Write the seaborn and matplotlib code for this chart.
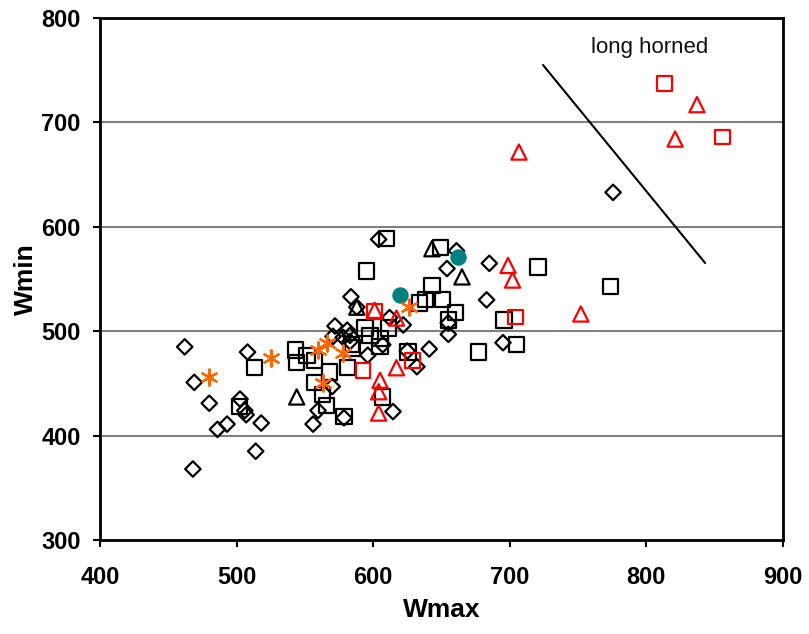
import matplotlib
matplotlib.use("Agg")
import matplotlib.pyplot as plt
import seaborn as sns
import pandas as pd

sns.set_theme(style="white")
plt.rcParams['font.family'] = ['Liberation Sans', 'DejaVu Sans']

# black diamonds
dia_x = [462, 468, 469, 480, 486, 493, 502.5, 506, 507, 508, 514, 518, 556, 559.6, 570, 578.6,
         570.6, 583, 572, 581, 578, 583, 583.7, 588, 596, 604, 612, 622, 632, 641, 614.5, 655,
         655, 654, 661, 683, 685, 695, 775.6, 607, 625]
dia_y = [485, 368, 451, 431, 406, 411, 435, 424, 420, 480, 385, 412, 411, 424, 447, 417,
         495, 496, 505, 501, 494, 490, 533, 523, 477, 588, 513, 506, 466, 483, 423, 497,
         508, 560, 577, 530, 565, 489, 633, 487, 481]
# black squares
sq_x = [513, 502, 543, 544, 551.5, 557, 568, 557, 563, 566, 578.6, 581, 584, 594, 597.7, 605,
        585, 605, 595, 610, 625.5, 607, 611, 634, 638, 643, 649, 651, 660, 655, 677, 695.8,
        705, 720.6, 774]
sq_y = [465, 428, 482, 470, 477, 472, 461, 451, 439, 429, 418, 465, 487, 503, 496, 493,
        484, 485, 557.7, 589, 480, 437, 503, 527, 530, 544, 580, 530, 518, 510.7, 480, 510.7,
        487, 561.5, 543]
# black triangles
tri_x = [544, 643, 665, 588]
tri_y = [437, 579, 552, 523]
# red squares
rsq_x = [592.5, 601, 629, 704, 813, 856]
rsq_y = [462, 519, 472, 513.6, 737, 686]
# red triangles
rtri_x = [601, 605, 604, 604, 617, 617, 698.7, 702, 752, 706.7, 821, 837]
rtri_y = [520, 453, 442, 421.6, 465, 512.6, 563, 549, 516.5, 671.6, 684, 717]
# teal circles
tc_x = [619.6, 662]
tc_y = [534.7, 571]
# orange stars
st_x = [480, 525, 559.6, 566, 578, 563, 626]
st_y = [456, 474, 482, 489, 479, 450, 523]

# separator line
line_x = [724.3, 843]
line_y = [755, 565.3]

fig = plt.figure(figsize=(8.09, 6.34), dpi=100)
ax = fig.add_axes([100/809, 1-540/634, 683/809, 522/634])

for yv in [400, 500, 600, 700]:
    ax.axhline(yv, color='#808080', lw=1.5, zorder=0)

kw = dict(ax=ax, legend=False, zorder=3)
sns.scatterplot(x=dia_x, y=dia_y, marker='D', s=62, facecolor='none', edgecolor='black', linewidth=1.6, **kw)
sns.scatterplot(x=sq_x, y=sq_y, marker='s', s=120, facecolor='none', edgecolor='black', linewidth=1.6, **kw)
sns.scatterplot(x=tri_x, y=tri_y, marker='^', s=120, facecolor='none', edgecolor='black', linewidth=1.6, **kw)
sns.scatterplot(x=rsq_x, y=rsq_y, marker='s', s=115, facecolor='none', edgecolor='red', linewidth=1.6, **kw)
sns.scatterplot(x=rtri_x, y=rtri_y, marker='^', s=120, facecolor='none', edgecolor='red', linewidth=1.6, **kw)
sns.scatterplot(x=tc_x, y=tc_y, marker='o', s=140, color='#008080', edgecolor='#008080', linewidth=0, **kw)
sns.scatterplot(x=st_x, y=st_y, marker=(6, 2, 0), s=135, color='#FF6600', edgecolor='#FF6600', linewidth=1.6, **kw)

sns.lineplot(x=line_x, y=line_y, ax=ax, color='black', lw=1.5, legend=False)

ax.text(802.6, 772, 'long horned', fontsize=16, ha='center', va='center', color='#111111')

ax.set_xlim(400, 900)
ax.set_ylim(300, 800)
ax.set_xticks([400, 500, 600, 700, 800, 900])
ax.set_yticks([300, 400, 500, 600, 700, 800])
ax.tick_params(axis='both', which='both', direction='out', length=5, width=1.5, color='black',
               labelsize=17, labelcolor='black', bottom=True, left=True)
ax.tick_params(axis='x', pad=14)
ax.tick_params(axis='y', pad=9)
for lab in ax.get_xticklabels() + ax.get_yticklabels():
    lab.set_fontweight('bold')
for sp in ax.spines.values():
    sp.set_color('black')
    sp.set_linewidth(2)

ax.set_xlabel('Wmax', fontsize=19, fontweight='bold', labelpad=6, color='black')
ax.set_ylabel('Wmin', fontsize=19, fontweight='bold', labelpad=2, color='black')

fig.savefig('out.png', dpi=100)
